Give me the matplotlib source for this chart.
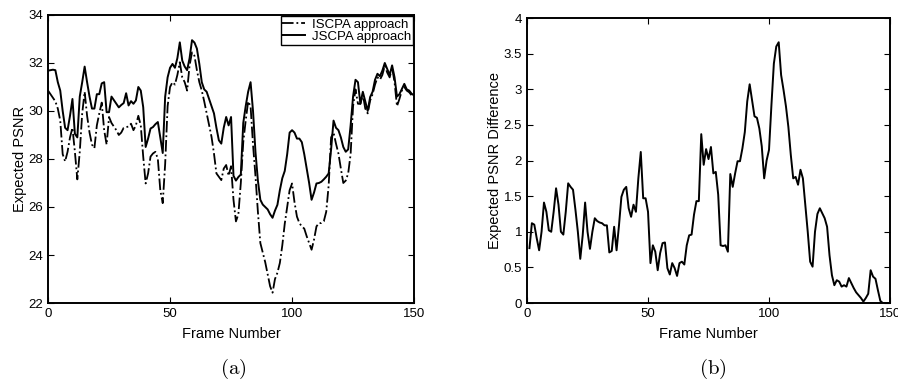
import matplotlib
matplotlib.use("Agg")
import matplotlib.pyplot as plt
from matplotlib.ticker import FormatStrFormatter

# frame numbers (0..150) for the two PSNR curves
frames = list(range(0, 151))

# Expected PSNR, separate source/channel approach (dash-dot)
psnr_iscpa = [
    30.85, 30.7, 30.55, 30.4, 30.1, 29.6, 28.2, 27.9, 28.3, 28.9,
    29.3, 28.3, 27.15, 28.3, 29.9, 30.8, 29.8, 29.1, 28.6, 28.45,
    29.4, 29.9, 30.35, 29.2, 28.6, 29.75, 29.5, 29.35, 29.2, 29.0,
    29.1, 29.3, 29.33, 29.35, 29.47, 29.2, 29.4, 29.8, 29.4, 28.1,
    26.98, 27.4, 28.1, 28.23, 28.3, 28.0, 26.7, 26.16, 27.8, 30.2,
    31.0, 31.2, 31.1, 31.5, 32.03, 31.4, 31.2, 30.85, 31.9, 32.44,
    32.3, 31.7, 31.2, 30.85, 30.4, 29.9, 29.4, 28.92, 28.23, 27.4,
    27.26, 27.12, 27.6, 27.75, 27.3, 27.7, 26.3, 25.4, 25.7, 27.0,
    28.7, 29.6, 30.4, 30.2, 28.6, 27.3, 25.8, 24.5, 24.1, 23.7,
    23.2, 22.7, 22.43, 23.0, 23.26, 23.67, 24.4, 25.3, 26.0, 26.7,
    26.98, 26.2, 25.6, 25.33, 25.19, 25.1, 24.78, 24.5, 24.22, 24.64,
    25.19, 25.33, 25.33, 25.4, 25.8, 26.9, 28.9, 29.1, 28.64, 28.23,
    27.6, 27.0, 27.1, 27.4, 28.2, 30.2, 30.9, 30.3, 30.3, 30.7,
    30.1, 29.9, 30.44, 30.7, 31.1, 31.4, 31.3, 31.5, 31.89, 31.6,
    31.4, 31.8, 31.2, 30.2, 30.5, 30.85, 31.0, 30.85, 30.78, 30.65,
    30.6,
]

# Expected PSNR, joint approach (solid)
psnr_jscpa = [
    31.68, 31.7, 31.72, 31.7, 31.2, 30.85, 30.0, 29.3, 29.2, 29.8,
    30.5, 29.05, 28.9, 30.6, 31.2, 31.85, 31.2, 30.6, 30.1, 30.1,
    30.7, 30.7, 31.15, 31.2, 29.95, 29.95, 30.6, 30.45, 30.3, 30.15,
    30.25, 30.33, 30.74, 30.23, 30.41, 30.3, 30.44, 31.0, 30.85, 30.16,
    28.5, 28.85, 29.27, 29.33, 29.45, 29.54, 28.9, 28.25, 30.6, 31.4,
    31.8, 31.96, 31.8, 32.2, 32.86, 32.1, 31.85, 31.7, 32.2, 32.95,
    32.85, 32.6, 31.96, 31.2, 30.9, 30.8, 30.5, 30.2, 29.9, 29.3,
    28.78, 28.64, 29.3, 29.75, 29.4, 29.75, 27.3, 27.1, 27.25, 27.35,
    29.5, 30.2, 30.8, 31.2, 30.0, 28.3, 27.1, 26.3, 26.1, 26.0,
    25.9, 25.7, 25.55, 25.85, 26.09, 26.7, 27.2, 27.5, 28.2, 29.1,
    29.2, 29.1, 28.85, 28.85, 28.7, 28.2, 27.6, 27.0, 26.3, 26.6,
    26.98, 27.0, 27.05, 27.15, 27.26, 27.4, 28.4, 29.6, 29.3, 29.2,
    28.9, 28.5, 28.3, 28.4, 29.4, 30.6, 31.3, 31.2, 30.3, 30.8,
    30.4, 30.0, 30.58, 30.8, 31.3, 31.55, 31.45, 31.68, 32.0, 31.75,
    31.5, 31.9, 31.4, 30.6, 30.7, 30.92, 31.13, 30.9, 30.85, 30.72,
    30.65,
]

# PSNR difference, frames 1..150
diff_frames = list(range(1, 151))
psnr_diff = [
    0.77, 1.12, 1.1, 0.91, 0.74, 1.0, 1.41, 1.28, 1.02, 1.0,
    1.28, 1.61, 1.38, 1.0, 0.96, 1.28, 1.68, 1.63, 1.59, 1.31,
    1.0, 0.62, 0.95, 1.41, 1.0, 0.76, 1.0, 1.19, 1.15, 1.13,
    1.12, 1.09, 1.09, 0.71, 0.73, 1.07, 0.74, 1.09, 1.49, 1.59,
    1.63, 1.33, 1.21, 1.38, 1.28, 1.75, 2.12, 1.47, 1.47, 1.28,
    0.56, 0.81, 0.72, 0.46, 0.70, 0.84, 0.85, 0.49, 0.40, 0.56,
    0.49, 0.38, 0.56, 0.58, 0.54, 0.81, 0.95, 0.96, 1.24, 1.43,
    1.43, 2.37, 1.94, 2.16, 2.02, 2.19, 1.82, 1.84, 1.52, 0.81,
    0.80, 0.81, 0.72, 1.81, 1.63, 1.82, 1.99, 1.99, 2.17, 2.40,
    2.83, 3.07, 2.85, 2.62, 2.6, 2.45, 2.2, 1.75, 2.0, 2.15,
    2.78, 3.36, 3.6, 3.66, 3.2, 2.99, 2.76, 2.47, 2.08, 1.75,
    1.77, 1.66, 1.87, 1.75, 1.38, 1.0, 0.58, 0.51, 1.0, 1.25,
    1.33, 1.26, 1.19, 1.07, 0.67, 0.39, 0.25, 0.32, 0.30, 0.23,
    0.25, 0.23, 0.35, 0.28, 0.21, 0.15, 0.11, 0.07, 0.02, 0.07,
    0.13, 0.46, 0.37, 0.34, 0.18, 0.03, 0.0, 0.0, 0.0, 0.0,
]

plt.rcParams["font.family"] = ["Liberation Sans", "DejaVu Sans"]
plt.rcParams["mathtext.fontset"] = "cm"

fig = plt.figure(figsize=(8.98, 3.8), dpi=100)
ax1 = fig.add_axes([0.0535, 0.2026, 0.4076, 0.758])
ax2 = fig.add_axes([0.5869, 0.2026, 0.4042, 0.75])

for ax in (ax1, ax2):
    ax.tick_params(direction="in", top=True, right=True, labelsize=9.5,
                   length=4, width=0.8)
    for s in ax.spines.values():
        s.set_linewidth(1.4)
    ax.set_xlim(0, 150)
    ax.set_xticks([0, 50, 100, 150])
    ax.set_xlabel("Frame Number", fontsize=10.5, labelpad=5)

# (a) expected PSNR
ax1.plot(frames, psnr_iscpa, color="black", linestyle="-.", linewidth=1.3,
         label="ISCPA approach")
ax1.plot(frames, psnr_jscpa, color="black", linestyle="-", linewidth=1.4,
         label="JSCPA approach")
ax1.set_ylim(22, 34)
ax1.set_yticks([22, 24, 26, 28, 30, 32, 34])
ax1.set_ylabel("Expected PSNR", fontsize=10.5, labelpad=1)
leg = ax1.legend(loc="upper right", fontsize=9.5, fancybox=False,
                 edgecolor="black", framealpha=1, borderpad=0.15,
                 handlelength=1.7, handletextpad=0.5, labelspacing=0.0,
                 borderaxespad=0.1)
leg.get_frame().set_linewidth(1.0)

# (b) difference
ax2.plot(diff_frames, psnr_diff, color="black", linewidth=1.4)
ax2.set_ylim(0, 4)
ax2.set_yticks([0, 0.5, 1, 1.5, 2, 2.5, 3, 3.5, 4])
ax2.yaxis.set_major_formatter(FormatStrFormatter("%g"))
ax2.set_ylabel("Expected PSNR Difference", fontsize=10.5, labelpad=1)

fig.text(0.2595, 0.028, r"$\mathrm{(a)}$", ha="center", va="center", fontsize=15)
fig.text(0.794, 0.028, r"$\mathrm{(b)}$", ha="center", va="center", fontsize=15)

fig.savefig("out.png", dpi=100)
